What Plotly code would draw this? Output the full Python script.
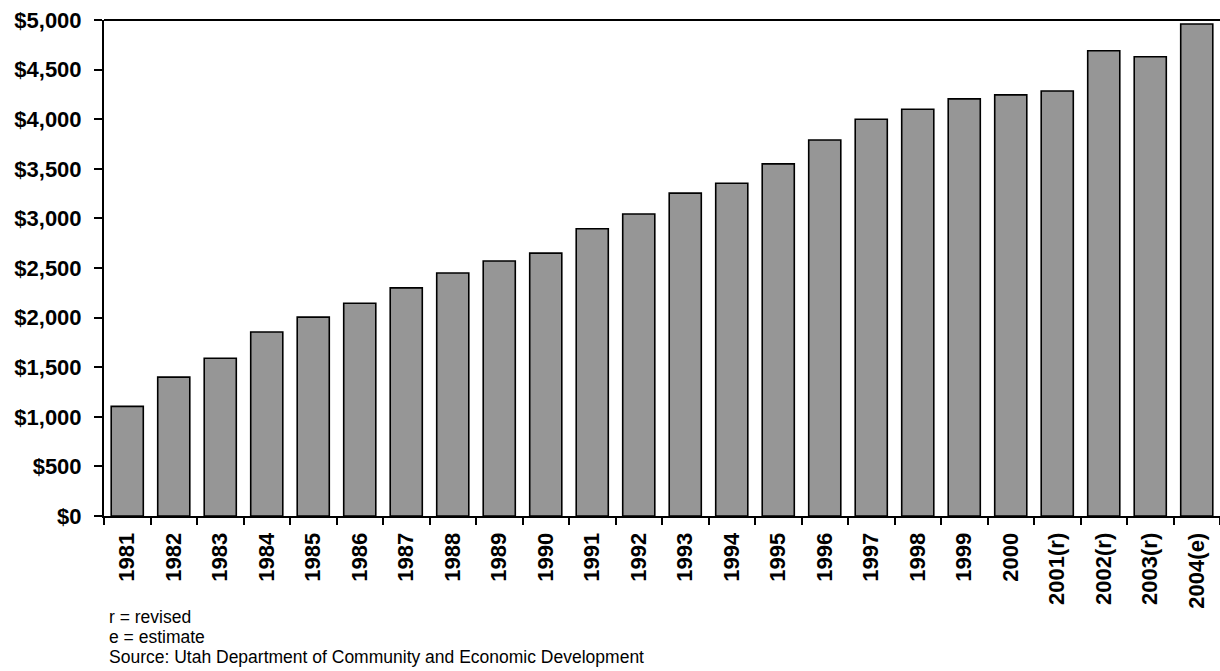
import plotly.graph_objects as go

years = ["1981", "1982", "1983", "1984", "1985", "1986", "1987", "1988",
         "1989", "1990", "1991", "1992", "1993", "1994", "1995", "1996",
         "1997", "1998", "1999", "2000", "2001(r)", "2002(r)", "2003(r)", "2004(e)"]
values = [1105, 1400, 1590, 1855, 2005, 2145, 2300, 2450,
          2570, 2650, 2895, 3045, 3255, 3355, 3550, 3790,
          4000, 4100, 4205, 4245, 4285, 4690, 4630, 4960]

notes = ["r = revised",
         "e = estimate",
         "Source: Utah Department of Community and Economic Development"]

font_family = "Liberation Sans, Arial, sans-serif"

fig = go.Figure(go.Bar(x=years,
                       y=values,
                       marker=dict(color="#969696",
                                   line=dict(color="black", width=1.6)),
                       hoverinfo="x+y"))

fig.update_layout(width=1220, height=671,
                  margin=dict(l=104, r=0, t=20, b=155),
                  plot_bgcolor="white",
                  paper_bgcolor="white",
                  bargap=0.31,
                  showlegend=False,
                  font=dict(family=font_family, color="black"))

fig.update_xaxes(type="category",
                 tickson="boundaries",
                 ticks="outside", ticklen=7, tickwidth=1.5, tickcolor="black",
                 tickangle=-90,
                 tickfont=dict(size=22, weight="bold"),
                 ticklabelstandoff=6,
                 automargin=False,
                 showline=True, linecolor="black", linewidth=2,
                 showgrid=False)

fig.update_yaxes(range=[0, 5000], dtick=500,
                 tickprefix="$", tickformat=",d",
                 ticks="outside", ticklen=8, tickwidth=1.5, tickcolor="black",
                 tickfont=dict(size=22, weight="bold"),
                 ticklabelstandoff=8,
                 automargin=False,
                 showline=True, linecolor="black", linewidth=2,
                 showgrid=False, zeroline=False)

# top border of the plot area
fig.add_shape(type="line", xref="paper", yref="paper",
              x0=0, x1=1, y0=1, y1=1,
              line=dict(color="black", width=2))

# footnotes below the chart
for i, note in enumerate(notes):
    fig.add_annotation(text=note, xref="paper", yref="paper",
                       x=0.003, y=-0.204 - i * 0.04,
                       xanchor="left", yanchor="middle",
                       showarrow=False,
                       font=dict(size=17.5, family=font_family))

# drop the page's default body margin so the figure fills the window
fig.write_html("out.html",
               config={"displayModeBar": False},
               post_script="document.body.style.margin='0';")
